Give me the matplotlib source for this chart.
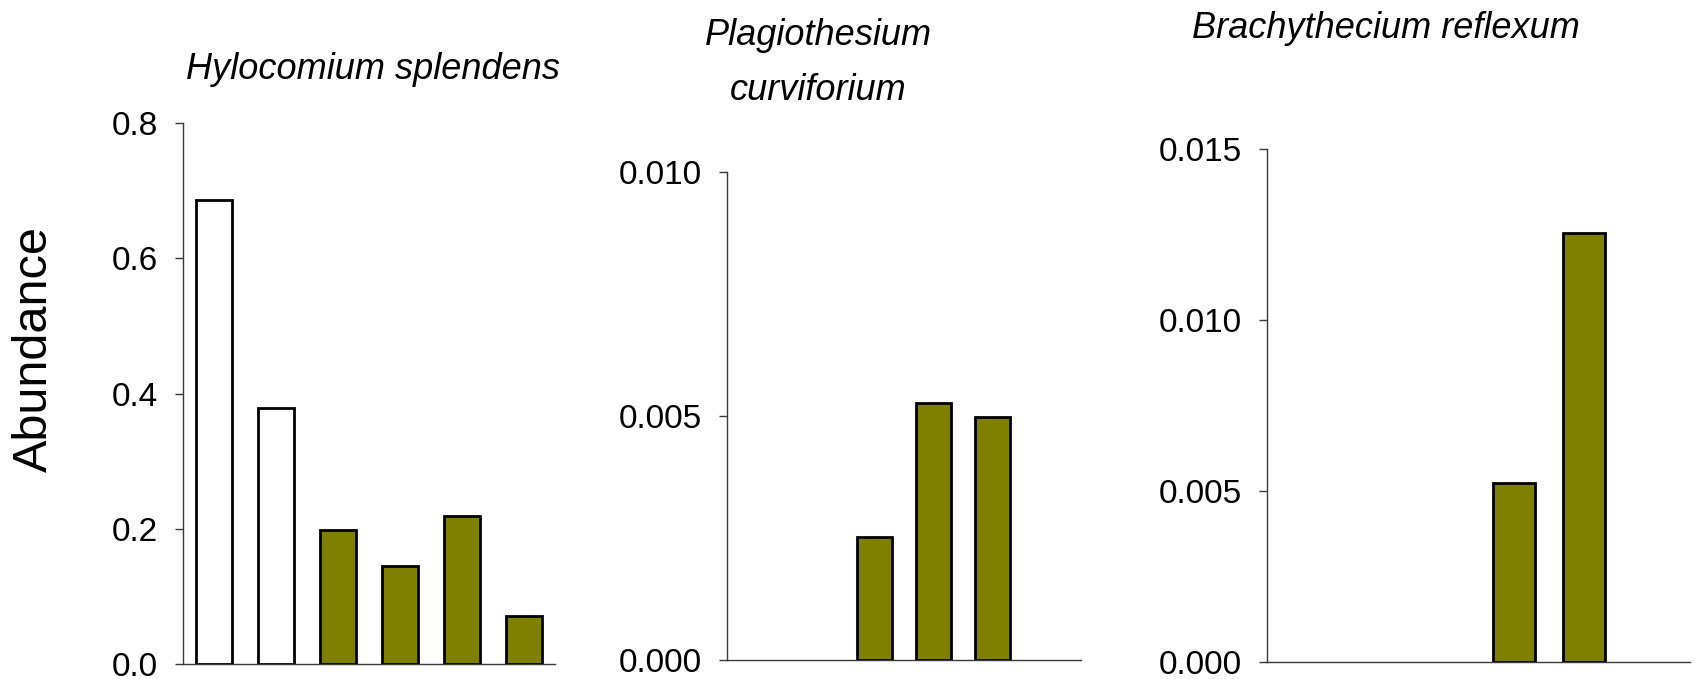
import matplotlib.pyplot as plt
from matplotlib.ticker import FixedLocator, FormatStrFormatter

# six sampling classes per species, drawn left to right
classes = ["c1", "c2", "c3", "c4", "c5", "c6"]

hylocomium = [0.686, 0.379, 0.199, 0.145, 0.219, 0.072]
plagiothesium = [0.0, 0.0, 0.00253, 0.00527, 0.00497, 0.0]
brachythecium = [0.0, 0.0, 0.0, 0.00523, 0.01253, 0.0]

hylo_ticks = [0.0, 0.2, 0.4, 0.6, 0.8]
small_ticks_2 = [0.0, 0.005, 0.010]
small_ticks_3 = [0.0, 0.005, 0.010, 0.015]

W, H = 1698, 679
fig = plt.figure(figsize=(W / 100, H / 100), dpi=100)

tick_font = ["Liberation Sans", "DejaVu Sans"]
olive = "#808000"


def px_axes(left, right, top, bottom):
    # axes rectangle given in pixel coordinates (origin top-left)
    return fig.add_axes([left / W, 1 - bottom / H, (right - left) / W, (bottom - top) / H])


def draw_panel(ax, values, colors, width, ticks, fmt):
    # empty classes get no bar at all
    x = [i for i, v in enumerate(values) if v > 0]
    h = [values[i] for i in x]
    c = [colors[i] for i in x]
    ax.bar(x, h, width=width, color=c, edgecolor="black", linewidth=2.0, zorder=3)
    ax.set_xlim(-0.5, len(classes) - 0.5)
    ax.set_ylim(ticks[0], ticks[-1])
    ax.yaxis.set_major_locator(FixedLocator(ticks))
    ax.yaxis.set_major_formatter(FormatStrFormatter(fmt))
    ax.set_xticks([])
    for side in ["top", "right"]:
        ax.spines[side].set_visible(False)
    for side in ["left", "bottom"]:
        ax.spines[side].set_color("#3a3a3a")
        ax.spines[side].set_linewidth(1.0)
    ax.tick_params(axis="y", direction="out", length=6, width=1.0, color="#3a3a3a",
                   pad=12, labelsize=24)
    for lab in ax.get_yticklabels():
        lab.set_family(tick_font)


ax1 = px_axes(183, 555, 122.7, 664.3)
draw_panel(ax1, hylocomium, ["white", "white", olive, olive, olive, olive], 0.57, hylo_ticks, "%.1f")

ax2 = px_axes(727, 1081, 171.7, 660.3)
draw_panel(ax2, plagiothesium, [olive] * 6, 0.59, small_ticks_2, "%.3f")

ax3 = px_axes(1267, 1690, 149, 662)
draw_panel(ax3, brachythecium, [olive] * 6, 0.59, small_ticks_3, "%.3f")


# species names above each panel
def title_at(x, y, text):
    fig.text(x / W, 1 - y / H, text, ha="center", va="baseline", fontsize=26,
             style="italic", family=tick_font)


title_at(373, 79, "Hylocomium splendens")
title_at(818, 45, "Plagiothesium")
title_at(818, 100, "curviforium")
title_at(1386, 38, "Brachythecium reflexum")

fig.text(34 / W, 1 - 349 / H, "Abundance", rotation=90, ha="center", va="center",
         fontsize=35, family=tick_font)

fig.savefig("out.png", dpi=100)
